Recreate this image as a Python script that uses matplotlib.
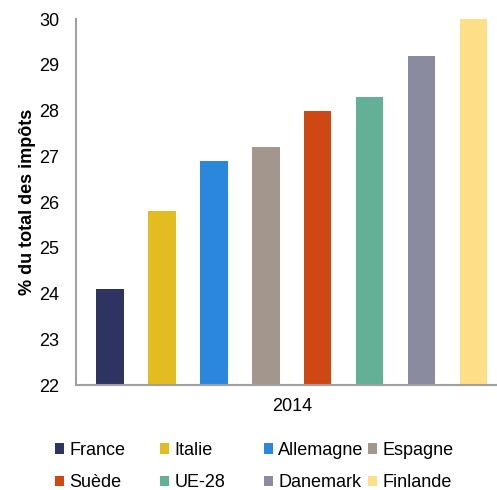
import matplotlib.pyplot as plt
import numpy as np

plt.rcParams['font.family'] = ['Liberation Sans', 'DejaVu Sans']

#%% data
countries = ['France', 'Italie', 'Allemagne', 'Espagne', 'Suède', 'UE-28', 'Danemark', 'Finlande']
values = [24.1, 25.8, 26.9, 27.2, 28.0, 28.3, 29.2, 30.0]
colors = ['#2e3361', '#e3bc22', '#2a87db', '#a3968d', '#cf4813', '#62b095', '#8b8ba0', '#fddf88']
year = '2014'

#%% plot
fig = plt.figure(figsize=(4.97, 4.90), dpi=100)
ax = fig.add_axes([0.153, 0.214, 0.847, 0.747])

x = np.arange(len(countries))
bars = []
for xi, v, c, lab in zip(x, values, colors, countries):
    bars.append(ax.bar(xi, v - 22, bottom=22, width=0.53, color=c, label=lab))

ax.set_ylim(22, 30)
ax.set_xlim(-0.65, 7.45)
ax.set_yticks(np.arange(22, 31, 1))
ax.set_xticks([3.5])
ax.set_xticklabels([year])
ax.tick_params(axis='both', length=0, labelsize=13)
ax.tick_params(axis='x', pad=9)
ax.tick_params(axis='y', pad=12)

for s in ['top', 'right']:
    ax.spines[s].set_visible(False)
for s in ['left', 'bottom']:
    ax.spines[s].set_color('#a0a0a0')
    ax.spines[s].set_linewidth(1.5)

ax.set_ylabel('% du total des impôts', fontsize=13, fontweight='bold', labelpad=2)

# legend: 4 fixed-width columns, 2 rows (row-major order)
col_x = [55, 160, 264, 368]
for j, cx in enumerate(col_x):
    idx = [j, j + 4]
    leg = fig.legend(handles=[bars[i] for i in idx], labels=[countries[i] for i in idx],
                     loc='upper left', bbox_to_anchor=(cx / 497, 1 - 442 / 490),
                     frameon=False, fontsize=13, handlelength=0.5, handleheight=0.5,
                     handletextpad=0.3, labelspacing=0.85, borderaxespad=0, borderpad=0)

plt.savefig('out.png', dpi=100)
